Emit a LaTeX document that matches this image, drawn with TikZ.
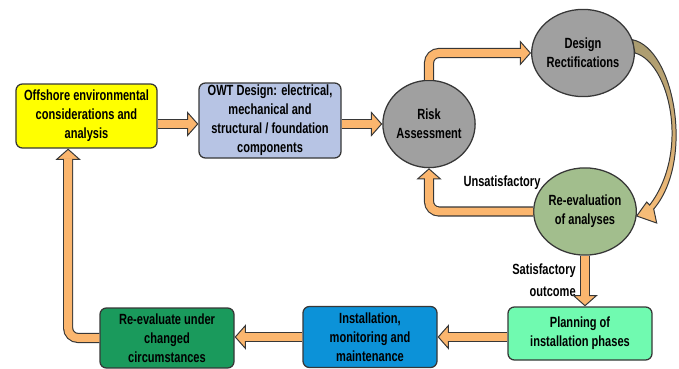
\documentclass[tikz,border=0pt]{standalone}
\usepackage{fontspec}
\setmainfont{Liberation Sans}[FakeStretch=0.75]
\usepackage{tikz}
\usetikzlibrary{arrows.meta,shapes.geometric,calc}

\definecolor{edgegray}{RGB}{55,55,55}
\definecolor{envyellow}{RGB}{255,255,0}
\definecolor{owtblue}{RGB}{183,196,228}
\definecolor{circgray}{RGB}{160,160,160}
\definecolor{evalgreen}{RGB}{162,190,141}
\definecolor{planmint}{RGB}{112,250,176}
\definecolor{instblue}{RGB}{12,146,216}
\definecolor{reungreen}{RGB}{26,154,92}
\definecolor{arrowfill}{RGB}{251,182,110}
\definecolor{curvtop}{RGB}{168,155,112}
\definecolor{curvbot}{RGB}{250,190,120}

\begin{document}
\begin{tikzpicture}[x=0.25mm, y=-0.25mm,
  every node/.style={font=\bfseries\fontsize{10.5}{13.5}\selectfont, align=center, inner sep=0pt},
  box/.style={draw=edgegray, line width=0.9pt, rounded corners=1.6mm},
  roundel/.style={ellipse, draw=edgegray, line width=0.9pt, minimum width=22.5mm, minimum height=21.8mm},
  fatarrow/.style={draw=edgegray, line width=7.2pt, rounded corners=2.5mm,
    -{Triangle[width=18pt,length=8pt,fill=arrowfill,line width=0.7pt]},
    postaction={draw=arrowfill, line width=5.6pt, -, shorten >=7pt}},
  curvearrow/.style={draw=edgegray, line width=0.7pt, top color=curvtop, bottom color=curvbot}]

  \useasboundingbox (0,0) rectangle (679,369);

  \node[box, fill=envyellow, minimum width=35.25mm, minimum height=16mm] (env) at (86.5,116)
    {Offshore environmental\\considerations and\\analysis};
  \node[box, fill=owtblue, minimum width=35.5mm, minimum height=18.75mm] (owt) at (270,120.5)
    {OWT Design: electrical,\\mechanical and\\structural / foundation\\components};
  \node[roundel, fill=circgray] (risk) at (429,124) {Risk\\Assessment};
  \node[roundel, fill=circgray] (rect) at (583,53) {Design\\Rectifications};
  \node[roundel, fill=evalgreen] (reeval) at (585,211.5) {Re-evaluation\\of analyses};
  \node[box, fill=planmint, minimum width=36mm, minimum height=13.25mm] (plan) at (580,333.5)
    {Planning of\\installation phases};
  \node[box, fill=instblue, minimum width=33.5mm, minimum height=15.25mm] (inst) at (370,337)
    {Installation,\\monitoring and\\maintenance};
  \node[box, fill=reungreen, minimum width=33.5mm, minimum height=15mm] (reunder) at (167,338)
    {Re-evaluate under\\changed\\circumstances};

  \node (unsat) at (502,183) {Unsatisfactory};
  \node[anchor=east, align=right, font=\bfseries\fontsize{10.5}{16}\selectfont] (satis) at (576,280)
    {Satisfactory\\outcome};

  \draw[fatarrow] (env.east |- risk.west) -- (owt.west |- risk.west);
  \draw[fatarrow] (owt.east |- risk.west) -- (risk.west);
  \draw[fatarrow] (risk.north) |- (rect.west);
  \draw[fatarrow] (reeval.west) -| (risk.south);
  \draw[fatarrow] (reeval.south) -- (reeval.south |- plan.north);
  \draw[fatarrow] (plan.west |- inst.east) -- (inst.east);
  \draw[fatarrow] (inst.west) -- (inst.west -| reunder.east);
  \draw[fatarrow] (reunder.west) -| ([xshift=-4.6mm]env.south);

  \draw[curvearrow] (rect.15) .. controls +(42,9) and +(41,-48) .. ($(reeval.355)+(17,-7)$)
    -- ++(3,14) -- (reeval.355) -- ++(10,-14) -- ++(3,3)
    .. controls +(41,-54) and +(34,9) .. (rect.east) -- cycle;

\end{tikzpicture}
\end{document}
